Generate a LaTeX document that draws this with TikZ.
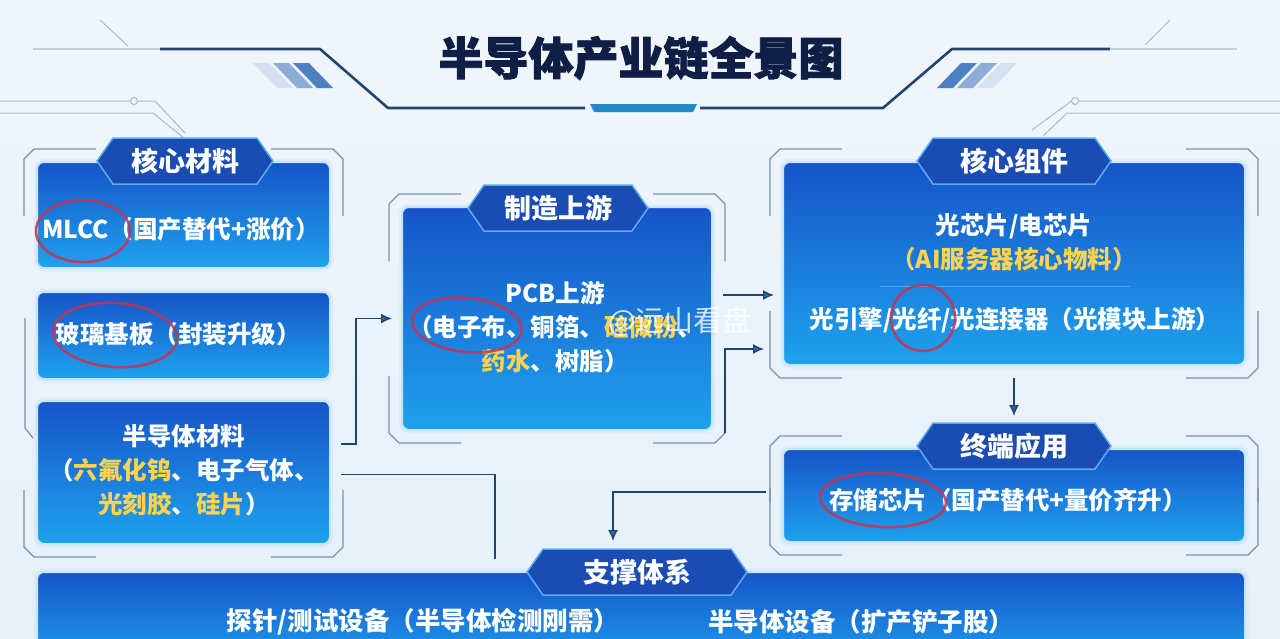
\documentclass[tikz,border=0pt]{standalone}
\usepackage{fontspec}
\setmainfont{Noto Sans CJK SC}
\newfontfamily\titlefont{Noto Sans CJK SC}[FakeBold=2]
\usetikzlibrary{positioning,arrows.meta,calc}

\definecolor{navy}{HTML}{0E1E44}
\definecolor{boxtop}{HTML}{1654C8}
\definecolor{boxbot}{HTML}{1FA2EE}
\definecolor{boxedge}{HTML}{C6E5FA}
\definecolor{tabfill}{HTML}{1A4CB4}
\definecolor{tabedge}{HTML}{5AAEF0}
\definecolor{hl}{HTML}{FFD24F}
\definecolor{framecol}{HTML}{7C90A8}
\definecolor{wirecol}{HTML}{22456D}
\definecolor{tipblue}{HTML}{2C6AB8}
\definecolor{ringred}{HTML}{C73350}
\definecolor{bgtop}{HTML}{F0F6FB}
\definecolor{bgbot}{HTML}{E5F0F9}
\definecolor{circuit}{HTML}{A9BACB}

% corner brackets round a panel (or a column of panels)
\newcommand{\panelframe}[2]{%
  \draw[framebr] ([shift={(-12,55)}]#1.north west) -- ([shift={(-12,-2)}]#1.north west) -- ([shift={(-2,-12)}]#1.north west) -- ([shift={(60,-12)}]#1.north west);
  \draw[framebr] ([shift={(-60,-12)}]#1.north east) -- ([shift={(2,-12)}]#1.north east) -- ([shift={(12,-2)}]#1.north east) -- ([shift={(12,55)}]#1.north east);
  \draw[framebr] ([shift={(12,-55)}]#2.south east) -- ([shift={(12,2)}]#2.south east) -- ([shift={(2,12)}]#2.south east) -- ([shift={(-60,12)}]#2.south east);
  \draw[framebr] ([shift={(60,12)}]#2.south west) -- ([shift={(-2,12)}]#2.south west) -- ([shift={(-12,2)}]#2.south west) -- ([shift={(-12,-55)}]#2.south west);
}

\begin{document}
\begin{tikzpicture}[x=1pt,y=-1pt,
    panel/.style={draw=boxedge,line width=2pt,rounded corners=7pt,top color=boxtop,bottom color=boxbot,
      preaction={draw=boxedge,line width=7pt,opacity=.35}},
    tabshape/.style={fill=tabfill,draw=tabedge,line width=1.5pt},
    tabtxt/.style={text=white,font=\bfseries\fontsize{27}{29}\selectfont},
    bodytxt/.style={text=white,font=\bfseries\fontsize{24.5}{34}\selectfont,align=center},
    framebr/.style={draw=framecol,line width=1.2pt},
    wire/.style={draw=wirecol,line width=1.4pt},
    flow/.style={wire,-{Latex[length=11pt,width=10pt,fill=tipblue]}},
    ring/.style={draw=ringred,line width=2.6pt,opacity=.85}]

  \useasboundingbox (0,0) rectangle (1280,638);
  \clip (0,0) rectangle (1280,638);
  \fill[top color=bgtop,bottom color=bgbot] (0,0) rectangle (1280,638);

  % title and its trim
  \node[text=navy,font=\titlefont\bfseries\fontsize{45}{50}\selectfont] (title) at (641,58) {半导体产业链全景图};
  \draw[line width=2pt,draw=circuit!70] (33,49) -- (160,49);
  \draw[line width=2.6pt,draw=wirecol,line join=round] (160,49) -- (320,49) -- (388,108) -- (585,108);
  \draw[line width=2.6pt,draw=wirecol,line join=round] (700,108) -- (883,108) -- (952,49) -- (1110,49);
  \draw[line width=2pt,draw=circuit!70] (1110,49) -- (1237,49);
  \fill[tipblue!80!cyan] (590,104) -- (697,104) -- (693,112) -- (594,112) -- cycle;
  \foreach \x/\c in {253/20,273/55,293/85}
    \fill[tipblue!\c!white] (\x,63) -- (\x+16,63) -- (\x+40,88) -- (\x+24,88) -- cycle;
  \foreach \x/\c in {937/85,957/55,977/20}
    \fill[tipblue!\c!white] (\x+24,63) -- (\x+40,63) -- (\x+16,88) -- (\x,88) -- cycle;

  % circuit traces
  \draw[circuit,line width=1pt] (0,101) -- (130.5,101) (137.5,101) -- (155,101) -- (185,133)
    (0,113) -- (153,113) -- (190,143) (100,20) -- (128,46);
  \draw[circuit,line width=1pt] (134,101) circle (3.5);
  \draw[circuit,line width=1pt] (1280,101) -- (1078.5,101) (1071.5,101) -- (1032,130)
    (1280,113) -- (1067,113) -- (1043,136) (1170,20) -- (1145,45);
  \draw[circuit,line width=1pt] (1075,101) circle (3.5);

  % panels
  \node[panel,minimum width=293,minimum height=106] (mat1) at (183.5,215) {};
  \node[panel,minimum width=293,minimum height=87,below=22pt of mat1] (mat2) {};
  \node[panel,minimum width=293,minimum height=143,below=20pt of mat2] (mat3) {};
  \node[panel,minimum width=310,minimum height=223] (pcb) at (557,318.5) {};
  \node[panel,minimum width=462,minimum height=203] (core) at (1014,263.5) {};
  \node[panel,minimum width=462,minimum height=93,below=82pt of core] (app) {};
  \node[panel,minimum width=1208,minimum height=96] (sup) at (641,620) {};

  \panelframe{mat1}{mat3}
  \draw[framebr] (25,318) -- (25,428) -- (33,438);
  \foreach \p in {pcb,core,app}{
    \panelframe{\p}{\p}
  }

  % tabs
  \foreach \nm/\cx/\cy/\w/\txt in {tabmat/185/161/176/核心材料,tabpcb/558/208/180/制造上游,
      tabcore/1014/161/194/核心组件,tabapp/1014/446/194/终端应用,tabsup/637/572/220/支撑体系}{
    \filldraw[tabshape] (\cx-\w/2,\cy) -- (\cx-\w/2+16,\cy-23) -- (\cx+\w/2-16,\cy-23)
      -- (\cx+\w/2,\cy) -- (\cx+\w/2-16,\cy+23) -- (\cx-\w/2+16,\cy+23) -- cycle;
    \node[tabtxt] (\nm) at (\cx,\cy) {\txt};
  }

  % panel texts
  \node[bodytxt] (mlcc) at (181,229) {MLCC（国产替代+涨价）};
  \node[bodytxt] (glass) at (178,334) {玻璃基板（封装升级）};
  \node[bodytxt] (semimat) at (184,470) {半导体材料\\（\textcolor{hl}{六氟化钨}、电子气体、\\\textcolor{hl}{光刻胶}、\textcolor{hl}{硅片}）};
  \node[bodytxt] (pcbup) at (555,327) {PCB上游\\（电子布、铜箔、\textcolor{hl}{硅微粉}、\\\textcolor{hl}{药水}、树脂）};
  \node[bodytxt] (chips) at (1014,242) {光芯片/电芯片\\\textcolor{hl}{（AI服务器核心物料）}};
  \draw[white,opacity=.25,line width=1pt] ([shift={(-134,23)}]core.center) -- ([shift={(116,23)}]core.center);
  \node[bodytxt] (optic) at (1015,320) {光引擎/光纤/光连接器（光模块上游）};
  \node[bodytxt] (memory) at (1008,500) {存储芯片（国产替代+量价齐升）};
  \node[bodytxt,font=\bfseries\fontsize{25.5}{30}\selectfont] (probe) at (423,622) {探针/测试设备（半导体检测刚需）};
  \node[bodytxt,font=\bfseries\fontsize{25.5}{30}\selectfont] (equip) at (861,622) {半导体设备（扩产铲子股）};

  % hand-drawn rings
  \draw[ring] (83,231) ellipse (47 and 31);
  \draw[ring,rotate around={-4:(115,335)}] (115,335) ellipse (62 and 32);
  \draw[ring,rotate around={-6:(467,325)}] (467,325) ellipse (55 and 27);
  \draw[ring] (923,318) ellipse (32 and 33);
  \draw[ring,rotate around={-3:(883,500)}] (883,500) ellipse (63 and 27);

  % connectors
  \draw[flow] ([shift={(10,-28.5)}]mat3.east) -- ++(15,0) |- ([shift={(-9,0)}]pcb.west);
  \draw[wire] ([shift={(10,2)}]mat3.east) -| ([shift={(-146,-12)}]sup.north);
  \draw[flow] ([shift={(10,-23.5)}]pcb.east) -- ++(51,0);
  \draw[flow] ([shift={(12,2)}]pcb.south east) |- ([shift={(-18,85.5)}]core.west);
  \draw[flow] ([shift={(0,12)}]core.south) -- ([shift={(0,-32)}]app.north);
  \draw[flow] ([shift={(-16,-3.5)}]app.west) -| ([shift={(-28,-30)}]sup.north);

  % watermark
  \node[text=white,opacity=.8,font=\fontsize{29}{30}\selectfont] (mark) at (680,322) {@远山看盘};
\end{tikzpicture}
\end{document}
